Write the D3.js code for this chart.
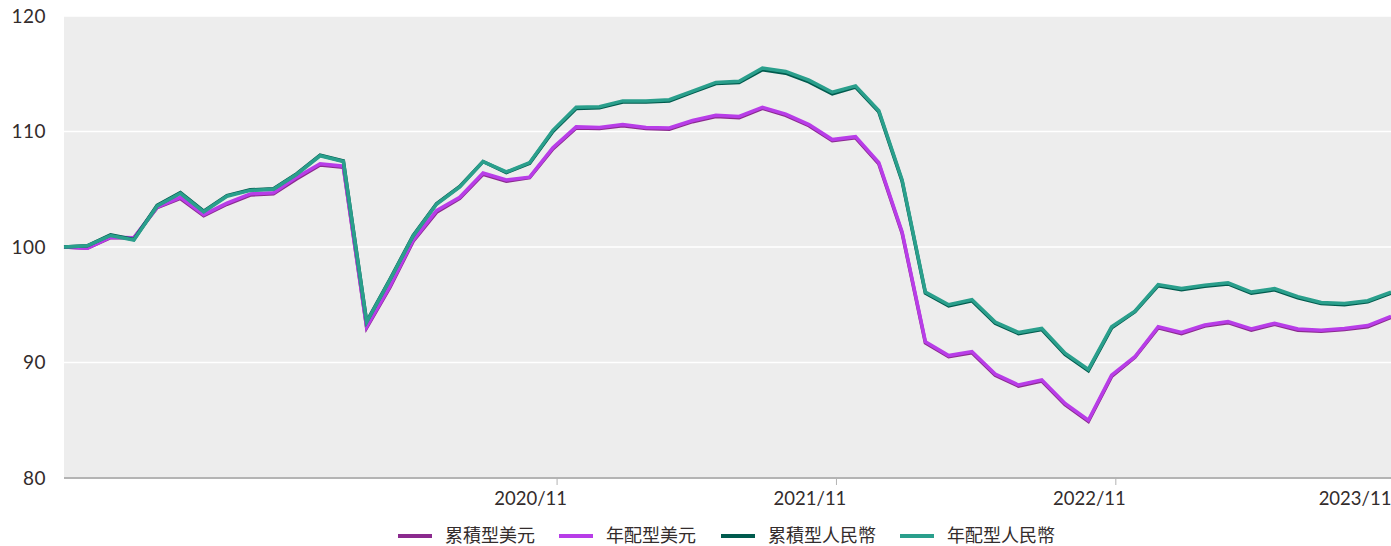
<!DOCTYPE html>
<html>
<head>
<meta charset="utf-8">
<script src="https://cdn.jsdelivr.net/npm/d3@7"></script>
<style>
  body { margin: 0; background: #fff; }
  text { font-family: Lato, "Noto Sans CJK TC", sans-serif; fill: #332c2c; }
</style>
</head>
<body>
<svg id="chart" width="1391" height="546"></svg>
<script>
// month labels, 2019/03 .. 2023/12
var months = [];
for (var i = 0; i < 58; i++) {
    var m = 2 + i;
    months.push((2019 + Math.floor(m / 12)) + "/" + ((m % 12) + 1));
}

var seriesNames = ["累積型美元", "年配型美元", "累積型人民幣", "年配型人民幣"];
var seriesColors = ["#8b2a8e", "#b83de8", "#005b4e", "#2a9f8c"];

var accUsd = [100.0, 99.9, 100.8, 100.8, 103.4, 104.2, 102.7, 103.7, 104.5, 104.6, 105.9, 107.1, 106.9,
    93.0, 96.5, 100.5, 103.0, 104.2, 106.3, 105.7, 106.0, 108.5, 110.3, 110.25, 110.5, 110.25, 110.2,
    110.85, 111.3, 111.2, 112.0, 111.4, 110.5, 109.2, 109.45, 107.2, 101.2, 91.7, 90.5, 90.85, 88.9,
    87.95, 88.4, 86.35, 84.9, 88.8, 90.45, 93.0, 92.5, 93.15, 93.45, 92.8, 93.3, 92.8, 92.7, 92.85,
    93.1, 93.9];
var annUsd = [100.0, 99.9, 100.85, 100.8, 103.45, 104.3, 102.8, 103.8, 104.6, 104.7, 106.05, 107.2, 107.0,
    93.1, 96.6, 100.6, 103.15, 104.3, 106.4, 105.8, 106.05, 108.6, 110.4, 110.35, 110.6, 110.35, 110.3,
    110.95, 111.4, 111.3, 112.1, 111.5, 110.6, 109.3, 109.55, 107.3, 101.3, 91.8, 90.6, 90.95, 89.0,
    88.05, 88.5, 86.45, 85.0, 88.9, 90.5, 93.1, 92.6, 93.25, 93.55, 92.9, 93.4, 92.9, 92.8, 92.95,
    93.2, 94.0];
var accCny = [100.0, 100.1, 101.05, 100.65, 103.6, 104.7, 103.1, 104.45, 104.95, 105.05, 106.35, 107.95, 107.45,
    93.55, 97.2, 101.0, 103.75, 105.25, 107.4, 106.45, 107.25, 110.0, 112.0, 112.05, 112.55, 112.55, 112.65,
    113.4, 114.15, 114.25, 115.35, 115.05, 114.3, 113.25, 113.85, 111.7, 105.7, 96.0, 94.9, 95.35, 93.4,
    92.5, 92.85, 90.7, 89.3, 93.0, 94.4, 96.65, 96.3, 96.6, 96.8, 96.0, 96.3, 95.6, 95.1, 95.0,
    95.25, 96.0];
var annCny = [100.0, 100.1, 101.0, 100.6, 103.55, 104.65, 103.05, 104.4, 104.9, 105.0, 106.3, 107.9, 107.4,
    93.5, 97.15, 100.95, 103.7, 105.2, 107.4, 106.5, 107.3, 110.1, 112.1, 112.15, 112.65, 112.65, 112.75,
    113.5, 114.25, 114.35, 115.5, 115.2, 114.45, 113.4, 113.95, 111.8, 105.8, 96.1, 95.0, 95.45, 93.5,
    92.6, 92.95, 90.8, 89.4, 93.1, 94.45, 96.75, 96.4, 96.7, 96.9, 96.1, 96.4, 95.7, 95.2, 95.1,
    95.35, 96.1];

var yTicks = [80, 90, 100, 110, 120];
var xTickLabels = ["2020/11", "2021/11", "2022/11", "2023/11"];

function renderChart() {
    var svg = d3.select("#chart"),
        margin = { top: 16, right: 0, bottom: 68, left: 64 },
        width = +svg.attr("width") - margin.left - margin.right,
        height = +svg.attr("height") - margin.top - margin.bottom;

    var x = d3.scalePoint().domain(months).range([0, width]),
        y = d3.scaleLinear().domain([80, 120]).range([height, 0]);

    var g = svg.append("g")
        .attr("transform", "translate(" + margin.left + "," + margin.top + ")");

    g.append("rect")
        .attr("width", width)
        .attr("height", height)
        .attr("fill", "#ededed");

    // gridlines
    g.selectAll(".grid")
        .data(yTicks.slice(1))
        .enter().append("line")
        .attr("x1", 0).attr("x2", width)
        .attr("y1", function (d) { return y(d); })
        .attr("y2", function (d) { return y(d); })
        .attr("stroke", "#fff")
        .attr("stroke-width", 1.5);

    // y labels
    g.selectAll(".ylab")
        .data(yTicks)
        .enter().append("text")
        .attr("x", -18)
        .attr("y", function (d) { return y(d); })
        .attr("dy", "0.35em")
        .attr("text-anchor", "end")
        .style("font-size", "19px")
        .style("letter-spacing", "0.5px")
        .text(function (d) { return d; });

    // x axis line
    g.append("line")
        .attr("x1", 0).attr("x2", width)
        .attr("y1", height).attr("y2", height)
        .attr("stroke", "#b4b4b4")
        .attr("stroke-width", 2);

    var step = x.step();
    g.selectAll(".xtick")
        .data(xTickLabels)
        .enter().append("line")
        .attr("x1", function (d) { return x(d) + step * 1.18; })
        .attr("x2", function (d) { return x(d) + step * 1.18; })
        .attr("y1", height).attr("y2", height + 7)
        .attr("stroke", "#b4b4b4")
        .attr("stroke-width", 1);

    g.selectAll(".xlab")
        .data(xTickLabels)
        .enter().append("text")
        .attr("x", function (d) { return Math.min(x(d) + 1, width - 36); })
        .attr("y", height + 27)
        .attr("text-anchor", "middle")
        .style("font-size", "18.5px")
        .text(function (d) { return d; });

    var line = d3.line()
        .x(function (d, i) { return x(months[i]); })
        .y(function (d) { return y(d); });

    var allSeries = [accUsd, annUsd, accCny, annCny];
    g.selectAll(".series")
        .data(allSeries)
        .enter().append("path")
        .attr("d", line)
        .attr("fill", "none")
        .attr("stroke", function (d, i) { return seriesColors[i]; })
        .attr("stroke-width", 3.5)
        .attr("stroke-linejoin", "miter");

    // legend
    var legendX = [398, 559, 721, 900];
    var lg = svg.selectAll(".legend")
        .data(seriesNames)
        .enter().append("g")
        .attr("transform", function (d, i) { return "translate(" + legendX[i] + ",536)"; });
    lg.append("line")
        .attr("x1", 0).attr("x2", 34)
        .attr("stroke", function (d, i) { return seriesColors[i]; })
        .attr("stroke-width", 4);
    lg.append("text")
        .attr("x", 47)
        .attr("dy", "0.35em")
        .style("font-size", "18px")
        .style("font-family", "'Noto Sans CJK TC', sans-serif")
        .text(function (d) { return d; });
}

renderChart();
</script>
</body>
</html>
